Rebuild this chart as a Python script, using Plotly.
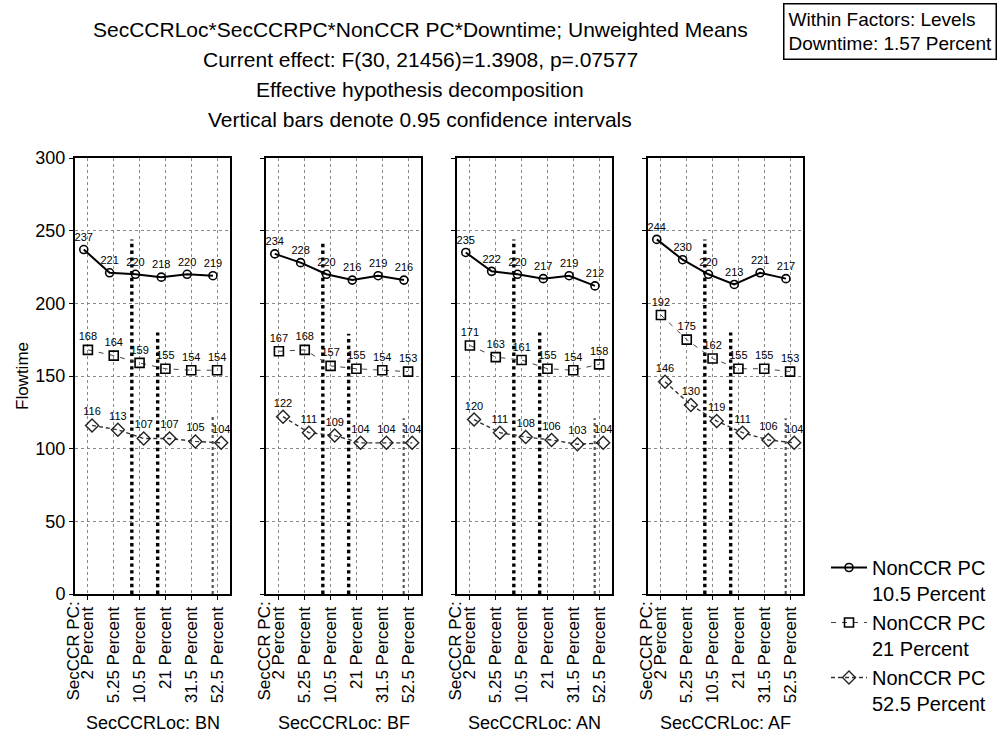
import plotly.graph_objects as go

W, H = 1005, 752

# ---- data -------------------------------------------------------------
locations = ["BN", "BF", "AN", "AF"]
sec_pc_labels = ["2 Percent", "5.25 Percent", "10.5 Percent",
                 "21 Percent", "31.5 Percent", "52.5 Percent"]
sec_pc_factor = "SecCCR PC:"
series_names = ["NonCCR PC<br>10.5 Percent", "NonCCR PC<br>21 Percent",
                "NonCCR PC<br>52.5 Percent"]

flow_10_5 = {"BN": [237, 221, 220, 218, 220, 219],
             "BF": [234, 228, 220, 216, 219, 216],
             "AN": [235, 222, 220, 217, 219, 212],
             "AF": [244, 230, 220, 213, 221, 217]}
flow_21 = {"BN": [168, 164, 159, 155, 154, 154],
           "BF": [167, 168, 157, 155, 154, 153],
           "AN": [171, 163, 161, 155, 154, 158],
           "AF": [192, 175, 162, 155, 155, 153]}
flow_52_5 = {"BN": [116, 113, 107, 107, 105, 104],
             "BF": [122, 111, 109, 104, 104, 104],
             "AN": [120, 111, 108, 106, 103, 104],
             "AF": [146, 130, 119, 111, 106, 104]}

# confidence-interval bars (category index, upper limit; lower limit 0)
ci_index = [2, 3, 5]
ci_upper = {"BN": [244, 180, 122], "BF": [242, 179, 121],
            "AN": [244, 180, 121], "AF": [244, 180, 121]}

y_ticks = [0, 50, 100, 150, 200, 250, 300]

# ---- layout helpers ---------------------------------------------------
FONT = "Liberation Sans, Arial, sans-serif"
panel_left = [75, 266, 457, 648]
panel_w = 155
top_px, bot_px = 158, 594


def px_x(p):
    return p / W


def px_y(p):
    return 1 - p / H


fig = go.Figure()

styles = [
    dict(line=dict(color="black", width=2, dash="solid"),
         marker=dict(symbol="circle-open", size=8, color="black",
                     line=dict(width=1.6, color="black")), off=-0.16),
    dict(line=dict(color="#444", width=1, dash="5px,6px"),
         marker=dict(symbol="square-open", size=9, color="black",
                     line=dict(width=1.6, color="black")), off=0.0),
    dict(line=dict(color="#333", width=1.4, dash="4px,3px"),
         marker=dict(symbol="diamond-open", size=10, color="#222",
                     line=dict(width=1.4, color="#222")), off=0.16),
]
series_data = [flow_10_5, flow_21, flow_52_5]

ci_offsets = [-0.3, -0.3, -0.17]
ci_widths = [3.4, 3.4, 2.2]
ci_colors = ["black", "black", "#555"]

for pi, loc in enumerate(locations):
    xa = "x" if pi == 0 else f"x{pi + 1}"
    ya = "y" if pi == 0 else f"y{pi + 1}"
    # confidence bars
    for k, ci in enumerate(ci_index):
        xv = ci + ci_offsets[k]
        fig.add_trace(go.Scatter(
            x=[xv, xv], y=[0, ci_upper[loc][k]], mode="lines",
            line=dict(color=ci_colors[k], width=ci_widths[k], dash="dot"),
            showlegend=False, hoverinfo="skip", xaxis=xa, yaxis=ya))
    for si, (st, data) in enumerate(zip(styles, series_data)):
        vals = data[loc]
        fig.add_trace(go.Scatter(
            x=[i + st["off"] for i in range(len(vals))], y=vals,
            mode="lines+markers+text", text=[str(v) for v in vals],
            textposition="top center",
            textfont=dict(family=FONT, size=11, color="black"),
            line=st["line"], marker=st["marker"],
            name=series_names[si], legendgroup=f"s{si}",
            showlegend=(pi == 0), xaxis=xa, yaxis=ya))

layout = dict(
    width=W, height=H,
    margin=dict(l=0, r=0, t=0, b=0, pad=0, autoexpand=False),
    paper_bgcolor="white", plot_bgcolor="white",
    font=dict(family=FONT, size=15, color="black"),
    showlegend=True,
    legend=dict(x=px_x(826), y=px_y(548), xanchor="left", yanchor="top",
                font=dict(family=FONT, size=20, color="black"),
                valign="top", tracegroupgap=0, bgcolor="rgba(0,0,0,0)",
                itemwidth=36),
)

for pi in range(4):
    sfx = "" if pi == 0 else str(pi + 1)
    xd = [px_x(panel_left[pi]), px_x(panel_left[pi] + panel_w)]
    yd = [px_y(bot_px), px_y(top_px)]
    layout[f"xaxis{sfx}"] = dict(
        domain=xd, range=[-0.5, 5.5], anchor=f"y{sfx}",
        tickvals=list(range(6)), ticktext=sec_pc_labels, tickangle=-90,
        tickfont=dict(family=FONT, size=17, color="black"),
        ticks="outside", ticklen=4, tickcolor="black",
        showline=True, linecolor="black", linewidth=2, mirror=True,
        showgrid=True, gridcolor="#8a8a8a", griddash="dot", gridwidth=1,
        zeroline=False, fixedrange=True, automargin=False)
    layout[f"yaxis{sfx}"] = dict(
        domain=yd, range=[0, 300], anchor=f"x{sfx}",
        tickvals=y_ticks, showticklabels=(pi == 0),
        tickfont=dict(family=FONT, size=18, color="black"),
        ticks="outside", ticklen=4, tickcolor="black",
        showline=True, linecolor="black", linewidth=2, mirror=True,
        showgrid=True, gridcolor="#8a8a8a", griddash="dot", gridwidth=1,
        zeroline=False, fixedrange=True, automargin=False)
    # inner tick marks on the right edge
    layout[f"yaxis{pi + 5}"] = dict(
        overlaying=f"y{sfx}", anchor=f"x{sfx}", side="right",
        range=[0, 300], tickvals=[100 / 3 * k for k in range(1, 9)],
        showticklabels=False, ticks="inside", ticklen=5, tickcolor="black",
        showgrid=False, showline=False, zeroline=False, fixedrange=True,
        automargin=False)
    # inner tick marks on the top edge
    layout[f"xaxis{pi + 5}"] = dict(
        overlaying=f"x{sfx}", anchor=f"y{sfx}", side="top",
        range=[-0.5, 5.5], tickvals=list(range(6)),
        showticklabels=False, ticks="inside", ticklen=4, tickcolor="black",
        showgrid=False, showline=False, zeroline=False, fixedrange=True,
        automargin=False)

fig.update_layout(**layout)

annotations = []
title_lines = [
    "SecCCRLoc*SecCCRPC*NonCCR PC*Downtime; Unweighted Means",
    "Current effect: F(30, 21456)=1.3908, p=.07577",
    "Effective hypothesis decomposition",
    "Vertical bars denote 0.95 confidence intervals",
]
for i, t in enumerate(title_lines):
    annotations.append(dict(
        text=t, x=px_x(420), y=px_y(30 + 30 * i), xref="paper", yref="paper",
        xanchor="center", yanchor="middle", showarrow=False,
        font=dict(family=FONT, size=21, color="black")))

annotations.append(dict(
    text="Within Factors: Levels<br>Downtime: 1.57 Percent",
    x=px_x(783), y=px_y(3), xref="paper", yref="paper",
    xanchor="left", yanchor="top", align="left", showarrow=False,
    bordercolor="black", borderwidth=1.5, borderpad=4, bgcolor="white",
    font=dict(family=FONT, size=19, color="black")))

annotations.append(dict(
    text="Flowtime", x=px_x(22), y=px_y(376), xref="paper", yref="paper",
    xanchor="center", yanchor="middle", textangle=-90, showarrow=False,
    font=dict(family=FONT, size=17, color="black")))

for pi, loc in enumerate(locations):
    # factor name placed beside the first category label
    annotations.append(dict(
        text=sec_pc_factor, x=px_x(panel_left[pi] - 2), y=px_y(600),
        xref="paper", yref="paper", xanchor="center", yanchor="top",
        textangle=-90, showarrow=False,
        font=dict(family=FONT, size=17, color="black")))
    annotations.append(dict(
        text=f"SecCCRLoc: {loc}",
        x=px_x(panel_left[pi] + panel_w / 2), y=px_y(723),
        xref="paper", yref="paper", xanchor="center", yanchor="middle",
        showarrow=False, font=dict(family=FONT, size=18, color="black")))

fig.update_layout(annotations=annotations)

fig.write_html("out.html")
